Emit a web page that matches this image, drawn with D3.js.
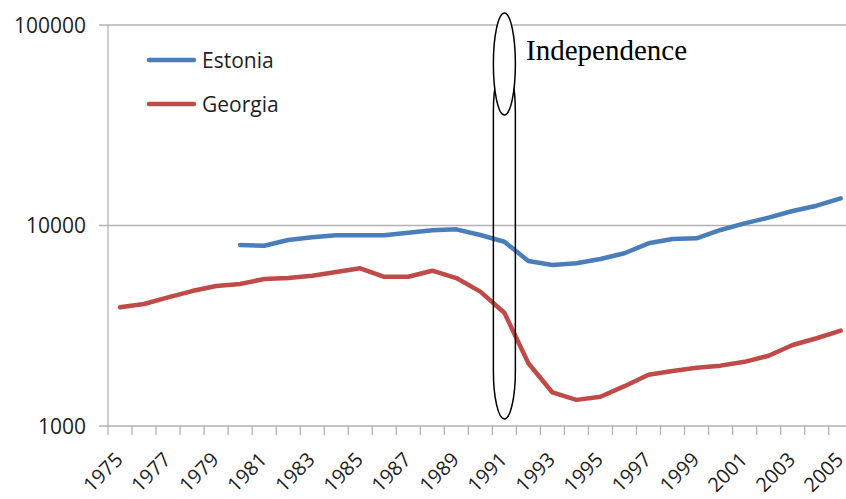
<!DOCTYPE html>
<html>
<head>
<meta charset="utf-8">
<script src="https://cdn.jsdelivr.net/npm/d3@7"></script>
<style>
  body { margin: 0; background: #fff; }
  .grid { stroke: #b3b3b3; stroke-width: 1.3; }
  .tick-label { font-family: "Open Sans", sans-serif; font-size: 21px; fill: #1e1e1e; }
  .x-label { font-size: 20px; }
  .series { fill: none; stroke-width: 4.5; stroke-linejoin: round; stroke-linecap: round; }
</style>
</head>
<body>
<script>
"use strict";

var width = 846, height = 499;

var years = d3.range(1975, 2006);
var yearLabels = years.filter(function (y) { return (y - 1975) % 2 === 0; });
var yTicks = [1000, 10000, 100000];

// Estonia starts in 1980
var estoniaYears = d3.range(1980, 2006);
var estonia = [7990, 7930, 8470, 8730, 8940, 8940, 8940, 9210, 9460, 9570,
  8970, 8300, 6650, 6350, 6480, 6810, 7270, 8150, 8560, 8630,
  9500, 10250, 10940, 11810, 12550, 13670];

var georgia = [3910, 4060, 4380, 4710, 4990, 5110, 5410, 5470, 5620, 5860,
  6120, 5550, 5550, 5950, 5470, 4680, 3670, 2055, 1470, 1350,
  1400, 1580, 1800, 1880, 1950, 2000, 2090, 2240, 2535, 2740, 2990];

var seriesNames = ["Estonia", "Georgia"];
var seriesColors = ["#4a7ebb", "#be4b48"];
var markYear = 1991;
var markLabel = "Independence";

var plotLeft = 108, plotRight = 852.7, plotTop = 25, plotBottom = 426;

var svg = d3.select("body").append("svg")
  .attr("width", width)
  .attr("height", height);

var x = d3.scaleBand()
  .domain(years)
  .range([plotLeft, plotRight]);

var y = d3.scaleLog()
  .domain([1000, 100000])
  .range([plotBottom, plotTop]);

function cx(yr) { return x(yr) + x.bandwidth() / 2; }

// horizontal gridlines
svg.selectAll("line.grid-h")
  .data(yTicks)
  .enter()
  .append("line")
  .attr("class", "grid")
  .attr("x1", plotLeft - 9)
  .attr("x2", width)
  .attr("y1", function (d) { return y(d); })
  .attr("y2", function (d) { return y(d); });

// y axis line
svg.append("line")
  .attr("class", "grid")
  .attr("x1", plotLeft).attr("x2", plotLeft)
  .attr("y1", plotTop).attr("y2", plotBottom + 0.5);

// x ticks at category boundaries
svg.selectAll("line.xtick")
  .data(years.concat([2006]))
  .enter()
  .append("line")
  .attr("class", "grid")
  .attr("x1", function (d) { return plotLeft + (d - 1975) * x.step(); })
  .attr("x2", function (d) { return plotLeft + (d - 1975) * x.step(); })
  .attr("y1", plotBottom)
  .attr("y2", plotBottom + 9);

// y labels
svg.selectAll("text.ylab")
  .data(yTicks)
  .enter()
  .append("text")
  .attr("class", "tick-label")
  .attr("x", 86)
  .attr("y", function (d) { return y(d); })
  .attr("dy", "0.36em")
  .attr("text-anchor", "end")
  .text(function (d) { return d; });

// x labels, rotated
svg.selectAll("text.xlab")
  .data(yearLabels)
  .enter()
  .append("text")
  .attr("class", "tick-label x-label")
  .attr("text-anchor", "end")
  .attr("transform", function (d) {
    return "translate(" + (cx(d) + 4) + "," + 461 + ") rotate(-45)";
  })
  .text(function (d) { return d; });

var line = d3.line()
  .x(function (d) { return cx(d.year); })
  .y(function (d) { return y(d.value); });

var estoniaData = estoniaYears.map(function (yr, i) { return { year: yr, value: estonia[i] }; });
var georgiaData = years.map(function (yr, i) { return { year: yr, value: georgia[i] }; });

svg.append("path")
  .datum(estoniaData)
  .attr("class", "series")
  .attr("stroke", seriesColors[0])
  .attr("d", line);

svg.append("path")
  .datum(georgiaData)
  .attr("class", "series")
  .attr("stroke", seriesColors[1])
  .attr("d", line);

// legend
seriesNames.forEach(function (name, i) {
  var ly = 60 + i * 44;
  svg.append("line")
    .attr("x1", 149).attr("x2", 194)
    .attr("y1", ly).attr("y2", ly)
    .attr("stroke", seriesColors[i])
    .attr("stroke-width", 4.5)
    .attr("stroke-linecap", "round");
  svg.append("text")
    .attr("class", "tick-label")
    .attr("x", 202)
    .attr("y", ly)
    .attr("dy", "0.36em")
    .text(name);
});

// independence marks: tall rounded loop, small ellipse on top of it
var mx = cx(markYear);
var rx = 11, arcR = 48, loopTop = 64, loopBottom = 419;
svg.append("path")
  .attr("d", "M" + (mx - rx) + "," + (loopTop + arcR) +
    " A" + rx + "," + arcR + " 0 0 1 " + (mx + rx) + "," + (loopTop + arcR) +
    " L" + (mx + rx) + "," + (loopBottom - arcR) +
    " A" + rx + "," + arcR + " 0 0 1 " + (mx - rx) + "," + (loopBottom - arcR) + " Z")
  .attr("fill", "none").attr("stroke", "#000").attr("stroke-width", 1.5);

svg.append("ellipse")
  .attr("cx", mx).attr("cy", 64)
  .attr("rx", 11).attr("ry", 51)
  .attr("fill", "#fff").attr("stroke", "#000").attr("stroke-width", 1.5);

svg.append("text")
  .attr("x", 526)
  .attr("y", 60)
  .attr("font-family", "Liberation Serif, serif")
  .attr("font-size", 29)
  .attr("fill", "#000")
  .text(markLabel);
</script>
</body>
</html>
